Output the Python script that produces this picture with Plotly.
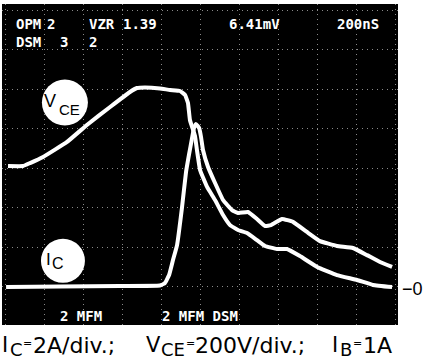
import plotly.graph_objects as go

# ---- data (time in ns, 200 ns/div; I_C in A, 2 A/div; V_CE in V, 200 V/div) ----
t_vce = [13, 90, 126, 193, 316, 418, 537, 639, 675, 716, 793, 845, 896, 922, 937, 947,
         958, 973, 983, 999, 1035, 1076, 1117, 1153, 1194, 1240, 1291, 1333, 1394, 1445,
         1512, 1600, 1702, 1805, 1887, 1985]
vce = [610, 610, 625, 656, 732, 818, 909, 985, 1005, 1008, 1003, 995, 990, 970, 929, 843,
       808, 762, 691, 590, 504, 438, 362, 311, 286, 271, 235, 205, 190, 190,
       154, 99, 58, 33, 8, -3]

t_ic = [3, 280, 588, 793, 819, 840, 860, 881, 906, 927, 942, 958, 968, 978, 994, 1004,
        1014, 1040, 1076, 1117, 1163, 1194, 1245, 1291, 1333, 1363, 1420, 1476, 1548, 1615,
        1702, 1784, 1856, 1923, 1985]
ic = [-0.03, 0.0, 0.03, 0.05, 0.18, 0.58, 1.34, 2.10, 3.97, 5.80, 6.66, 7.52, 8.03, 8.23,
      8.03, 7.57, 6.91, 6.05, 5.24, 4.38, 3.87, 3.72, 3.77, 3.42, 3.06, 3.11, 3.42, 3.27,
      2.76, 2.30, 2.05, 1.95, 1.59, 1.24, 0.99]

NS_PER_DIV = 200
A_PER_DIV = 2
V_PER_DIV = 200

header_row1 = [("OPM", 16), ("2", 47), ("VZR", 89), ("1.39", 123), ("6.41mV", 229), ("200nS", 337)]
header_row2 = [("DSM", 16), ("3", 60), ("2", 89)]
footer_row = [("2 MFM", 60), ("2 MFM DSM", 162)]

W, H = 426, 361
ML, MR, MT, MB = 2, 28, 4, 36
PW, PH = W - ML - MR, H - MT - MB


def px(xp):
    return (xp - ML) / PW


def py(yp):
    return (H - MB - yp) / PH


fig = go.Figure()
fig.add_trace(go.Scatter(x=t_vce, y=[v / V_PER_DIV for v in vce], mode="lines",
                         line=dict(color="white", width=4, shape="spline", smoothing=0.3),
                         hoverinfo="skip"))
fig.add_trace(go.Scatter(x=t_ic, y=[a / A_PER_DIV for a in ic], mode="lines",
                         line=dict(color="white", width=4, shape="spline", smoothing=0.3),
                         hoverinfo="skip"))

# circles (labels)
for cx, cy, r in [(305, 4.66, 23), (295, 0.65, 22)]:
    fig.add_shape(type="circle", xref="x", yref="y", xsizemode="pixel", ysizemode="pixel",
                  xanchor=cx, yanchor=cy, x0=-r, x1=r, y0=-r, y1=r,
                  fillcolor="white", line=dict(color="white", width=0), layer="above")

ann = []


def text(s, x, y, size, color="black", family="DejaVu Sans", bold=False):
    ann.append(dict(text=("<b>%s</b>" % s) if bold else s, x=px(x), y=py(y), xref="paper", yref="paper",
                    xanchor="left", yanchor="middle", showarrow=False,
                    font=dict(family=family, size=size, color=color), borderpad=0))


mono = "DejaVu Sans Mono"
for s, x in header_row1:
    text(s, x - 1, 24, 14, "white", mono, True)
for s, x in header_row2:
    text(s, x - 1, 42, 14, "white", mono, True)
for s, x in footer_row:
    text(s, x - 1, 316, 14, "white", mono, True)

# circle labels
text("V", 43, 101, 18, "black", "Liberation Sans")
text("CE", 58, 109, 15, "black", "Liberation Sans")
text("I", 45, 259, 17, "black", "Liberation Sans")
text("C", 51, 263, 16, "black", "Liberation Sans")

# zero marker
text("−0", 401, 289, 18, "black", "Liberation Sans")

# caption
cap = "DejaVu Sans"
text("I", 1, 345, 21, "black", cap)
text("C", 9, 350, 18, "black", cap)
text("=", 22, 343, 11, "black", cap)
text("2A/div.;", 32, 345, 22, "black", cap)
text("V", 145, 345, 21, "black", cap)
text("CE", 160, 350, 18, "black", cap)
text("=", 185, 343, 11, "black", cap)
text("200V/div.;", 194, 345, 22, "black", cap)
text("I", 331, 345, 21, "black", cap)
text("B", 339, 350, 18, "black", cap)
text("=", 352, 343, 11, "black", cap)
text("1A", 362, 345, 22, "black", cap)

xmin = (ML - 5.5) / 38.95 * NS_PER_DIV
xmax = (ML + PW - 5.5) / 38.95 * NS_PER_DIV
ymin = -(H - MB - 286.5) / 39.5
ymax = (286.5 - MT) / 39.5

grid = dict(showgrid=True, gridcolor="rgba(210,210,210,0.65)", gridwidth=1, griddash="1px,4px",
            zeroline=False, showticklabels=False, ticks="", showline=False)
fig.update_layout(
    width=W, height=H, margin=dict(l=ML, r=MR, t=MT, b=MB),
    paper_bgcolor="white", plot_bgcolor="black", showlegend=False,
    xaxis=dict(range=[xmin, xmax], tick0=0, dtick=NS_PER_DIV, **grid),
    yaxis=dict(range=[ymin, ymax], tick0=0, dtick=1, **grid),
    annotations=ann,
)

fig.write_html("out.html", config={"displayModeBar": False},
               post_script="document.body.style.margin='0';document.body.style.padding='0';")
